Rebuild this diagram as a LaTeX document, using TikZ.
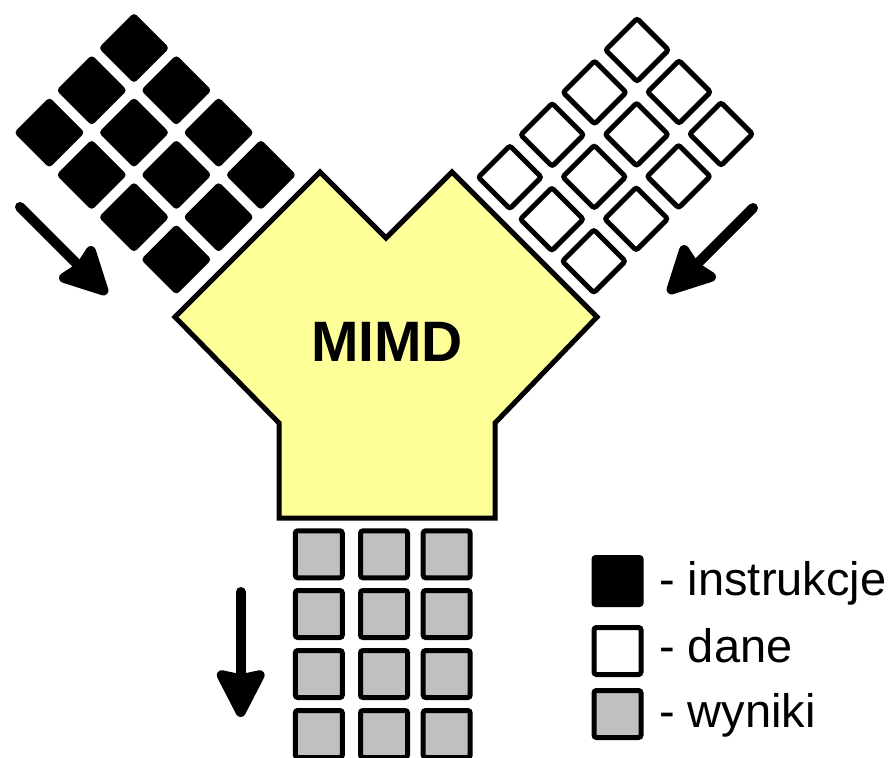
\documentclass[tikz,border=0pt]{standalone}
\usepackage{fontspec}
\setmainfont{Liberation Sans}
\usetikzlibrary{arrows.meta}
\definecolor{yel}{HTML}{FFFF99}
\definecolor{gry}{HTML}{C0C0C0}
\tikzset{
  blk/.style={shape=rectangle, fill=black, draw=black, line width=3pt, rounded corners=2.5pt, minimum size=47pt, inner sep=0pt, outer sep=0pt},
  wht/.style={shape=rectangle, fill=white, draw=black, line width=5pt, rounded corners=2.5pt, minimum size=44.5pt, inner sep=0pt, outer sep=0pt},
  gr/.style={shape=rectangle, fill=gry, draw=black, line width=5pt, rounded corners=2.5pt, minimum size=47pt, inner sep=0pt, outer sep=0pt},
  flow/.style={line width=10pt, line cap=round, -{Stealth[length=54pt, width=54pt, inset=5pt, round=false]}},
  body/.style={fill=yel, draw=black, line width=5pt, line join=miter},
  legtext/.style={anchor=base west, inner sep=0pt, font=\fontsize{47}{56}\selectfont}
}
\begin{document}
\begin{tikzpicture}[x=1pt, y=-1pt]
\useasboundingbox (0,0) rectangle (890,757);
% black (instructions) grid
\foreach \i in {0,...,3}{
  \foreach \j in {0,...,2}{
    \node[blk, rotate=45] (b\i\j) at ({134+42.3*\i-42.3*\j},{48+42.3*\i+42.3*\j}) {};
  }
}
% white (data) grid
\foreach \i in {0,...,2}{
  \foreach \j in {0,...,3}{
    \node[wht, rotate=45] (w\i\j) at ({637+42*\i-42.4*\j},{50+42*\i+42.4*\j}) {};
  }
}
% gray (results) grid
\foreach \x [count=\c] in {318.8,384,446.7}{
  \foreach \y [count=\r] in {554.3,614,674,734}{
    \node[gr] (g\c\r) at (\x,\y) {};
  }
}
% MIMD body
\draw[body] (320,172) -- (386,238) -- (452,172) -- (597,317) -- (495,423) -- (495,518)
  -- (279,518) -- (279,423) -- (175,317) -- cycle;
\node (mimd) at (387,342) {\fontsize{57}{60}\selectfont\bfseries MIMD};
% arrows
\coordinate (a1s) at (20,207);  \coordinate (a1e) at (107,294);
\coordinate (a2s) at (753,208); \coordinate (a2e) at (668,293);
\coordinate (a3s) at (240.7,592); \coordinate (a3e) at (240.7,717);
\draw[flow] (a1s) -- (a1e);
\draw[flow] (a2s) -- (a2e);
\draw[flow] (a3s) -- (a3e);
% legend
\node[blk, minimum size=49pt] (lb) at (617.5,581) {};
\node[wht, minimum size=47pt] (lw) at (617.5,651) {};
\node[gr] (lg) at (617.5,714) {};
\node[legtext] (t1) at (659,595) {- instrukcje};
\node[legtext] (t2) at (659,662) {- dane};
\node[legtext] (t3) at (659,727) {- wyniki};
\end{tikzpicture}
\end{document}
